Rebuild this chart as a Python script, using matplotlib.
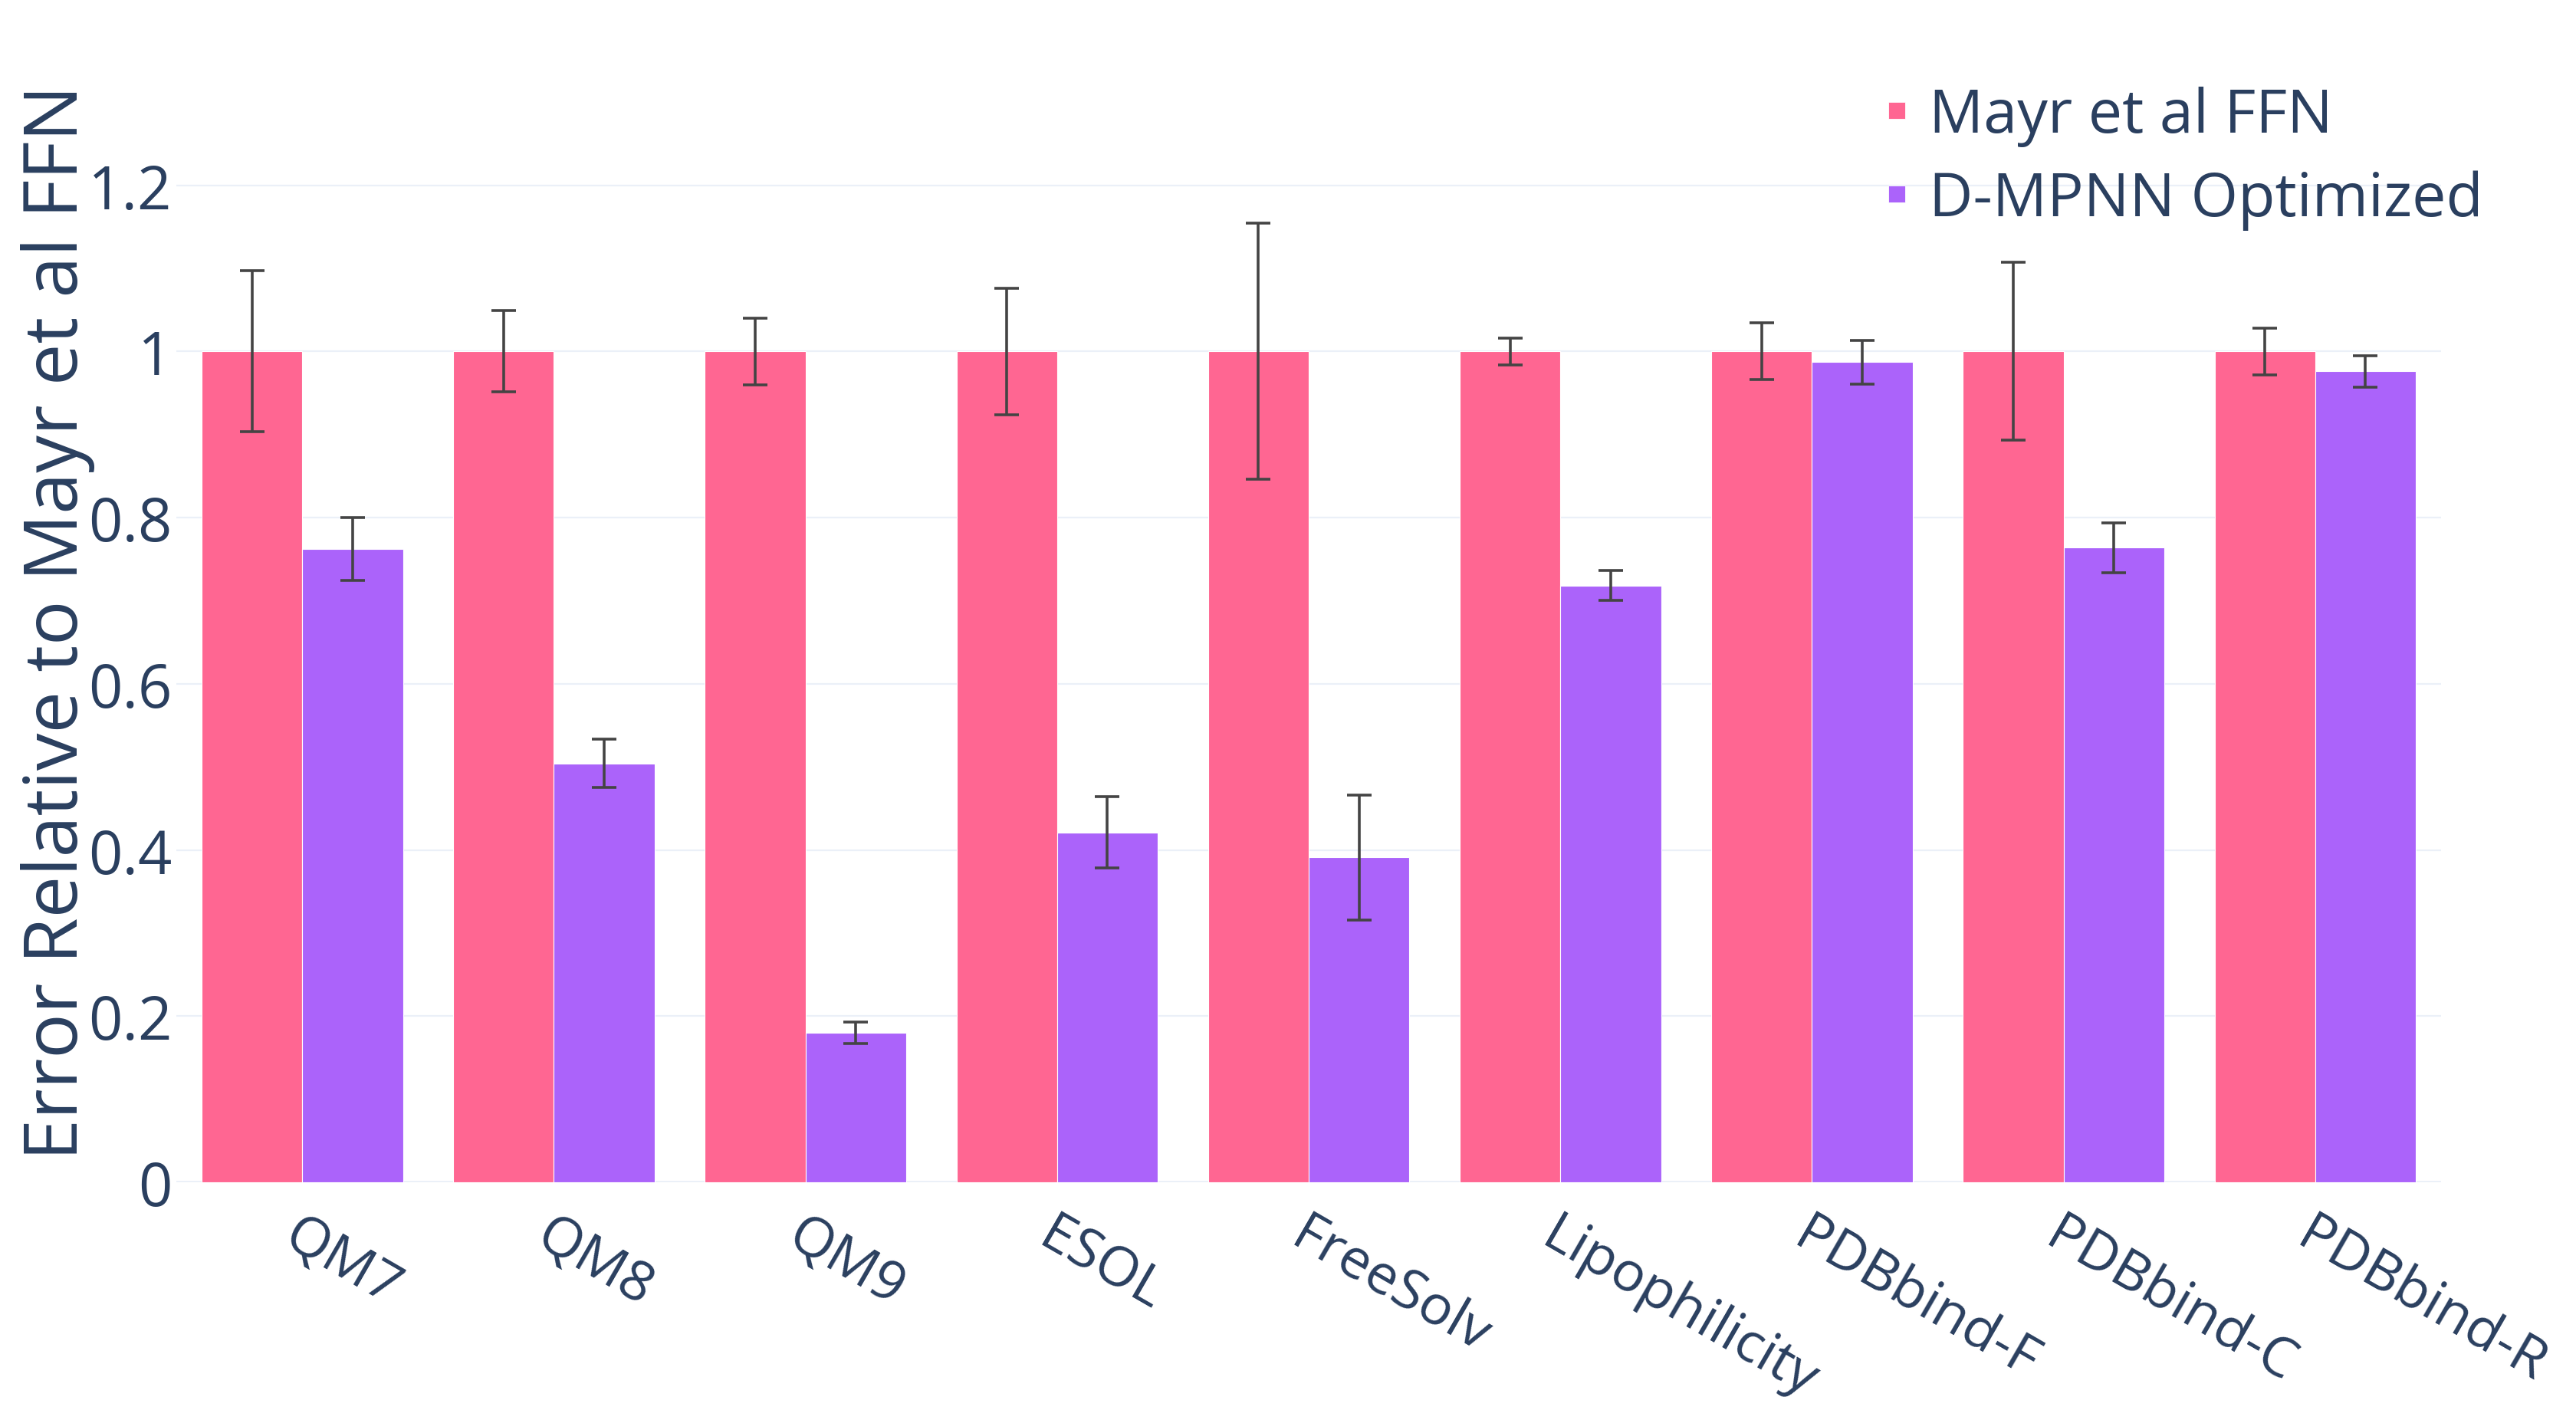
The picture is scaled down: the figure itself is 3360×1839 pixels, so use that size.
import numpy as np
import matplotlib
matplotlib.use('Agg')
import matplotlib.pyplot as plt
from matplotlib.lines import Line2D

plt.rcParams["font.family"] = ["Open Sans", "DejaVu Sans"]

# values
categories = ['QM7', 'QM8', 'QM9', 'ESOL', 'FreeSolv', 'Lipophilicity',
              'PDBbind-F', 'PDBbind-C', 'PDBbind-R']
mayr = [1.0, 1.0, 1.0, 1.0, 1.0, 1.0, 1.0, 1.0, 1.0]
mayr_err = [0.097, 0.049, 0.040, 0.076, 0.154, 0.016, 0.034, 0.107, 0.028]
dmpnn = [0.762, 0.504, 0.180, 0.421, 0.391, 0.718, 0.987, 0.764, 0.976]
dmpnn_err = [0.038, 0.029, 0.013, 0.043, 0.075, 0.018, 0.026, 0.030, 0.019]
yticks = [0, 0.2, 0.4, 0.6, 0.8, 1, 1.2]
ytick_labels = ['0', '0.2', '0.4', '0.6', '0.8', '1', '1.2']
series_names = ['Mayr et al FFN', 'D-MPNN Optimized']

PINK = '#FF6692'
PURPLE = '#AB63FA'
TEXT = '#2a3f5f'
GRID = '#EBF0F8'
ERR = '#444444'

fig = plt.figure(figsize=(16.8, 9.2), dpi=200)
ax = fig.add_axes([0.0685, 0.1614, 0.8791, 0.7951])

x = np.arange(len(categories))
w = 0.4
err_kw = dict(ecolor=ERR, elinewidth=1.3, capsize=5.8, capthick=1.3, zorder=4)
ax.bar(x - w / 2, mayr, w, color=PINK, edgecolor='white', linewidth=0.4,
       yerr=mayr_err, error_kw=err_kw, zorder=3)
ax.bar(x + w / 2, dmpnn, w, color=PURPLE, edgecolor='white', linewidth=0.4,
       yerr=dmpnn_err, error_kw=err_kw, zorder=3)

ax.set_xlim(-0.5, len(categories) - 0.5)
ax.set_ylim(0, 1.35)

# plotly-ish styling
for s in ax.spines.values():
    s.set_visible(False)
ax.set_yticks(yticks)
ax.set_yticklabels(ytick_labels)
ax.yaxis.grid(True, color=GRID, linewidth=0.8, zorder=0)
ax.set_axisbelow(True)
ax.axhline(0, color=GRID, linewidth=1.4, zorder=1)
ax.tick_params(axis='both', length=0, labelsize=28, labelcolor=TEXT)
ax.tick_params(axis='y', pad=2)

ax.set_xticks(x)
ax.set_xticklabels(categories, rotation=-30, ha='left', va='top',
                   rotation_mode='anchor', fontsize=26)
ax.tick_params(axis='x', pad=12)

ax.set_ylabel('Error Relative to Mayr et al FFN', fontsize=35, color=TEXT)
ax.yaxis.set_label_coords(-0.036, 0.5)

handles = [Line2D([], [], marker='s', linestyle='none', markersize=7.9,
                  markerfacecolor=PINK, markeredgecolor='white', markeredgewidth=0.3),
           Line2D([], [], marker='s', linestyle='none', markersize=7.9,
                  markerfacecolor=PURPLE, markeredgecolor='white', markeredgewidth=0.3)]
leg = ax.legend(handles, series_names, loc='upper left',
                bbox_to_anchor=(2463 / 3360, 1 - 113 / 1840),
                bbox_transform=fig.transFigure, frameon=False, fontsize=28.5,
                handlelength=0.28, handletextpad=0.39, labelspacing=0.38,
                borderpad=0, borderaxespad=0)
for t in leg.get_texts():
    t.set_color(TEXT)

fig.savefig('out.png', dpi=200, facecolor='white')
